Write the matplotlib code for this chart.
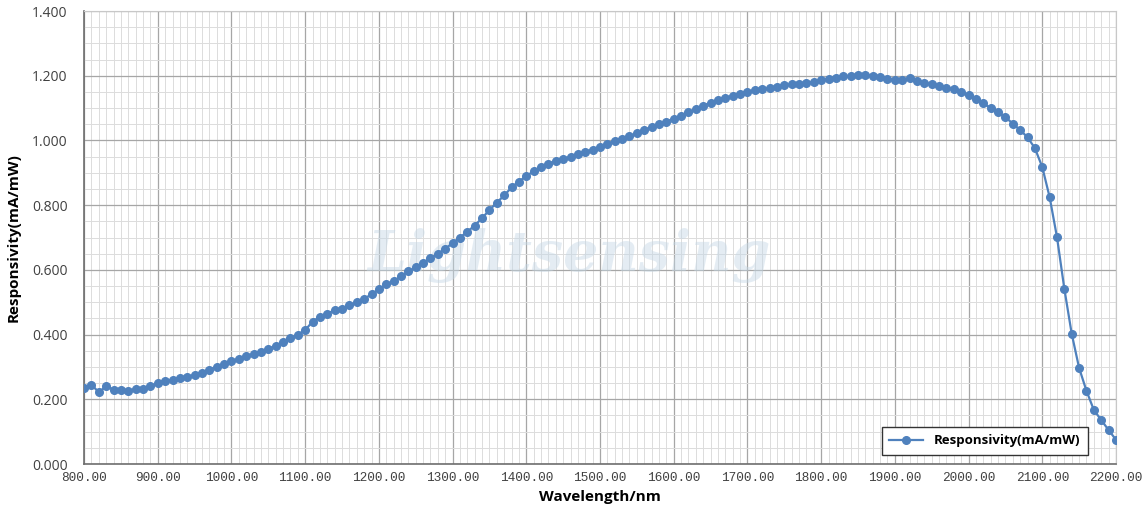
import numpy as np
import matplotlib
matplotlib.use("Agg")
import matplotlib.pyplot as plt
from matplotlib.ticker import MultipleLocator, FuncFormatter
from matplotlib.transforms import ScaledTranslation

# Responsivity curve, one point every 10 nm
wavelength = list(range(800, 2201, 10))
responsivity = [
    0.235, 0.245, 0.222, 0.240, 0.230, 0.230, 0.226, 0.232, 0.232, 0.240,   # 800-890
    0.250, 0.256, 0.260, 0.265, 0.270, 0.275, 0.282, 0.292, 0.300, 0.310,   # 900-990
    0.318, 0.325, 0.333, 0.340, 0.347, 0.355, 0.366, 0.377, 0.388, 0.400,   # 1000-1090
    0.414, 0.440, 0.455, 0.465, 0.475, 0.480, 0.490, 0.500, 0.510, 0.525,   # 1100-1190
    0.540, 0.555, 0.565, 0.580, 0.595, 0.608, 0.622, 0.636, 0.650, 0.665,   # 1200-1290
    0.683, 0.700, 0.718, 0.737, 0.760, 0.785, 0.808, 0.830, 0.855, 0.873,   # 1300-1390
    0.890, 0.905, 0.918, 0.928, 0.937, 0.943, 0.950, 0.958, 0.965, 0.972,   # 1400-1490
    0.980, 0.990, 0.998, 1.005, 1.013, 1.022, 1.032, 1.042, 1.050, 1.058,   # 1500-1590
    1.067, 1.077, 1.087, 1.097, 1.107, 1.117, 1.125, 1.132, 1.138, 1.144,   # 1600-1690
    1.150, 1.155, 1.158, 1.162, 1.166, 1.170, 1.173, 1.176, 1.178, 1.180,   # 1700-1790
    1.186, 1.190, 1.194, 1.198, 1.200, 1.202, 1.202, 1.200, 1.195, 1.190,   # 1800-1890
    1.187, 1.188, 1.192, 1.183, 1.178, 1.173, 1.167, 1.163, 1.158, 1.150,   # 1900-1990
    1.140, 1.127, 1.115, 1.100, 1.087, 1.072, 1.052, 1.032, 1.010, 0.976,   # 2000-2090
    0.918, 0.825, 0.701, 0.541, 0.402, 0.297, 0.226, 0.167, 0.136, 0.105,   # 2100-2190
    0.075,                                                                  # 2200
]

series_label = "Responsivity(mA/mW)"
x_label = "Wavelength/nm"
y_label = "Responsivity(mA/mW)"
watermark = "Lightsensing"

fig = plt.figure(figsize=(11.42, 5.15), dpi=100)
ax = fig.add_axes([0.0736, 0.099, 0.9036, 0.8796])

ax.plot(wavelength, responsivity, color="#4F81BD", lw=1.6, marker="o",
        markersize=5.5, markerfacecolor="#4F81BD", markeredgecolor="#4F81BD",
        label=series_label, zorder=3)

ax.set_xlim(800, 2200)
ax.set_ylim(0, 1.4)
ax.xaxis.set_major_locator(MultipleLocator(100))
ax.xaxis.set_minor_locator(MultipleLocator(10))
ax.yaxis.set_major_locator(MultipleLocator(0.2))
ax.yaxis.set_minor_locator(MultipleLocator(0.05))
ax.xaxis.set_major_formatter(FuncFormatter(lambda v, p: f"{v:.2f}"))
ax.yaxis.set_major_formatter(FuncFormatter(lambda v, p: f"{v:.3f}"))

ax.grid(which="major", color="#a6a6a6", lw=0.9)
ax.grid(which="minor", color="#dcdcdc", lw=0.7)
ax.set_axisbelow(True)

ax.tick_params(which="both", length=0)
ax.tick_params(axis="y", labelsize=10, labelcolor="#404040", pad=12)
ax.tick_params(axis="x", labelsize=9.2, labelcolor="#404040", pad=6)
for lab in ax.get_xticklabels():
    lab.set_family("Liberation Mono")
for lab in ax.get_yticklabels():
    lab.set_family("Open Sans")
# nudge the last x label left so it stays inside the figure
last = ax.xaxis.get_major_ticks()[-1].label1
last.set_transform(last.get_transform() + ScaledTranslation(-4 / 72, 0, fig.dpi_scale_trans))

for side in ["top", "right"]:
    ax.spines[side].set_color("#c8c8c8")
for side in ["left", "bottom"]:
    ax.spines[side].set_color("#6e6e6e")
    ax.spines[side].set_linewidth(1.2)

ax.set_xlabel(x_label, fontsize=11, fontweight="bold", family="Open Sans", labelpad=4)
ax.set_ylabel(y_label, fontsize=11, fontweight="bold", family="Open Sans", labelpad=8)

ax.text(0.47, 0.46, watermark, transform=ax.transAxes, fontsize=40,
        family="DejaVu Serif", style="italic", fontweight="bold",
        color="#c4d7e6", alpha=0.45, ha="center", va="center", zorder=1)

leg = ax.legend(loc="lower right", bbox_to_anchor=(0.975, 0.015),
                prop={"family": "Open Sans", "weight": "bold", "size": 9.5},
                frameon=True, fancybox=False, framealpha=1, edgecolor="#333333",
                handlelength=2.6, borderpad=0.55, borderaxespad=0.2)
leg.get_frame().set_linewidth(1.0)

fig.savefig("out.png", dpi=100)
